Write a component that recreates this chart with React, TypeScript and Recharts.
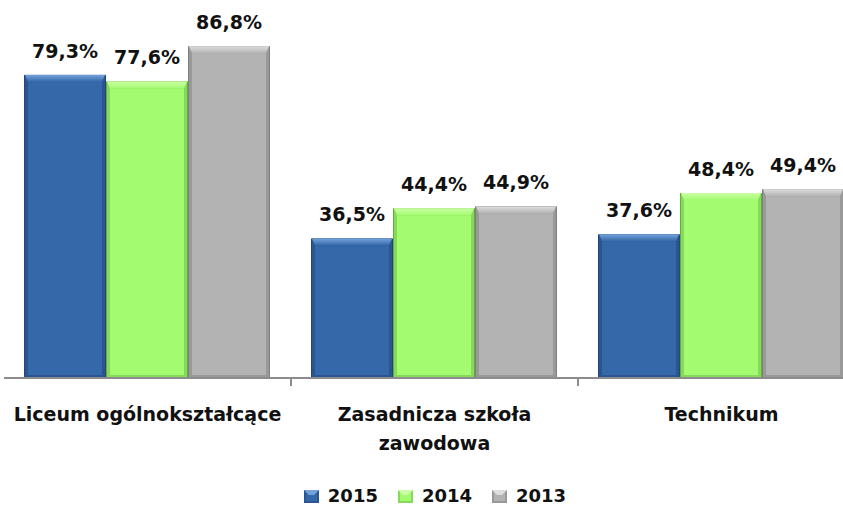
import React from "react";
import { BarChart, Bar, XAxis, YAxis, LabelList } from "recharts";

const categories = ["Liceum ogólnokształcące", "Zasadnicza szkoła zawodowa", "Technikum"];
const categoryLines = [["Liceum ogólnokształcące"], ["Zasadnicza szkoła", "zawodowa"], ["Technikum"]];
const seriesNames = ["2015", "2014", "2013"];
const values2015 = [79.3, 36.5, 37.6];
const values2014 = [77.6, 44.4, 48.4];
const values2013 = [86.8, 44.9, 49.4];

const data = categories.map((name, i) => ({
  name,
  y2015: values2015[i],
  y2014: values2014[i],
  y2013: values2013[i],
}));

const palettes = [
  { key: "y2015", main: "#3568a8", light: "#74a3dc", edge: "#2a5590", dark: "#224677" },
  { key: "y2014", main: "#a3fb70", light: "#cbffa6", edge: "#86d95a", dark: "#63ad3c" },
  { key: "y2013", main: "#b3b3b3", light: "#dedede", edge: "#999999", dark: "#7f7f7f" },
];

const FONT = "'DejaVu Sans', Verdana, sans-serif";
const CHART_W = 870;
const CHART_H = 508;
// x axis height (30) is added on top of the bottom margin
const MARGIN = { top: 34, right: 5, bottom: 100, left: 4 };
const BAND = (CHART_W - MARGIN.left - MARGIN.right) / categories.length;

const fmt = (v: number) => v.toFixed(1).replace(".", ",") + "%";

function makeShape(p: (typeof palettes)[number]) {
  return (props: any) => {
    const { x, y, width: w, height: h } = props;
    if (!h || h <= 0) return <g />;
    const s = 4;
    const t = 7;
    const gid = "g-" + p.key;
    return (
      <g>
        <defs>
          <linearGradient id={gid} x1="0" y1="0" x2="0" y2="1">
            <stop offset="0%" stopColor={p.light} />
            <stop offset="100%" stopColor={p.main} />
          </linearGradient>
        </defs>
        <rect x={x} y={y} width={w} height={h} fill={p.dark} />
        <rect x={x + 1} y={y} width={w - 2} height={h - 1} fill={p.edge} />
        <rect x={x + s} y={y + t} width={w - 2 * s} height={h - t - 3} fill={p.main} />
        <polygon
          points={`${x + 1},${y} ${x + w - 1},${y} ${x + w - s},${y + t} ${x + s},${y + t}`}
          fill={`url(#${gid})`}
        />
      </g>
    );
  };
}

const ValueLabel = (props: any) => {
  const { x, y, width, value } = props;
  return (
    <text
      x={x + width / 2}
      y={y - 17}
      textAnchor="middle"
      fontFamily={FONT}
      fontWeight="bold"
      fontSize={19}
      fill="#111"
    >
      {fmt(value)}
    </text>
  );
};

const CategoryTick = (props: any) => {
  const { x, y, index } = props;
  const lines = categoryLines[index] || [];
  return (
    <g>
      <text textAnchor="middle" fontFamily={FONT} fontWeight="bold" fontSize={19} fill="#111">
        {lines.map((l, i) => (
          <tspan key={i} x={x} y={y + 43 + i * 29}>
            {l}
          </tspan>
        ))}
      </text>
      {index < categories.length - 1 && (
        <line x1={x + BAND / 2} x2={x + BAND / 2} y1={y} y2={y + 8} stroke="#8c8c8c" strokeWidth={2} />
      )}
    </g>
  );
};

function LegendSwatch({ p }: { p: (typeof palettes)[number] }) {
  return (
    <svg width={15} height={13} style={{ display: "block" }}>
      <rect x={0} y={0} width={15} height={13} fill={p.edge} />
      <rect x={2} y={2} width={11} height={9} fill={p.main} />
      <polygon points="0,0 15,0 10,5 5,5" fill={p.light} />
    </svg>
  );
}

export default function App() {
  return (
    <div
      style={{
        position: "absolute",
        left: 0,
        top: 0,
        width: 843,
        height: 508,
        overflow: "hidden",
        background: "#fff",
      }}
    >
      <BarChart
        width={CHART_W}
        height={CHART_H}
        data={data}
        margin={MARGIN}
        barCategoryGap={20}
        barGap={0}
      >
        <XAxis
          dataKey="name"
          tickLine={false}
          tickSize={0}
          tickMargin={0}
          axisLine={{ stroke: "#8c8c8c", strokeWidth: 2 }}
          tick={<CategoryTick />}
          interval={0}
        />
        <YAxis hide domain={[0, 90]} />
        {palettes.map((p, i) => (
          <Bar
            key={p.key}
            dataKey={p.key}
            name={seriesNames[i]}
            fill={p.main}
            shape={makeShape(p)}
            isAnimationActive={false}
          >
            <LabelList dataKey={p.key} content={<ValueLabel />} />
          </Bar>
        ))}
      </BarChart>
      <div
        style={{
          position: "absolute",
          top: 487,
          left: 0,
          width: CHART_W,
          display: "flex",
          justifyContent: "center",
          fontFamily: FONT,
          fontWeight: "bold",
          fontSize: 18,
          lineHeight: "18px",
          color: "#111",
        }}
      >
        {palettes.map((p, i) => (
          <div
            key={p.key}
            style={{ display: "flex", alignItems: "center", marginRight: i < palettes.length - 1 ? 20 : 0 }}
          >
            <div style={{ marginRight: 9 }}>
              <LegendSwatch p={p} />
            </div>
            <span>{seriesNames[i]}</span>
          </div>
        ))}
      </div>
    </div>
  );
}
